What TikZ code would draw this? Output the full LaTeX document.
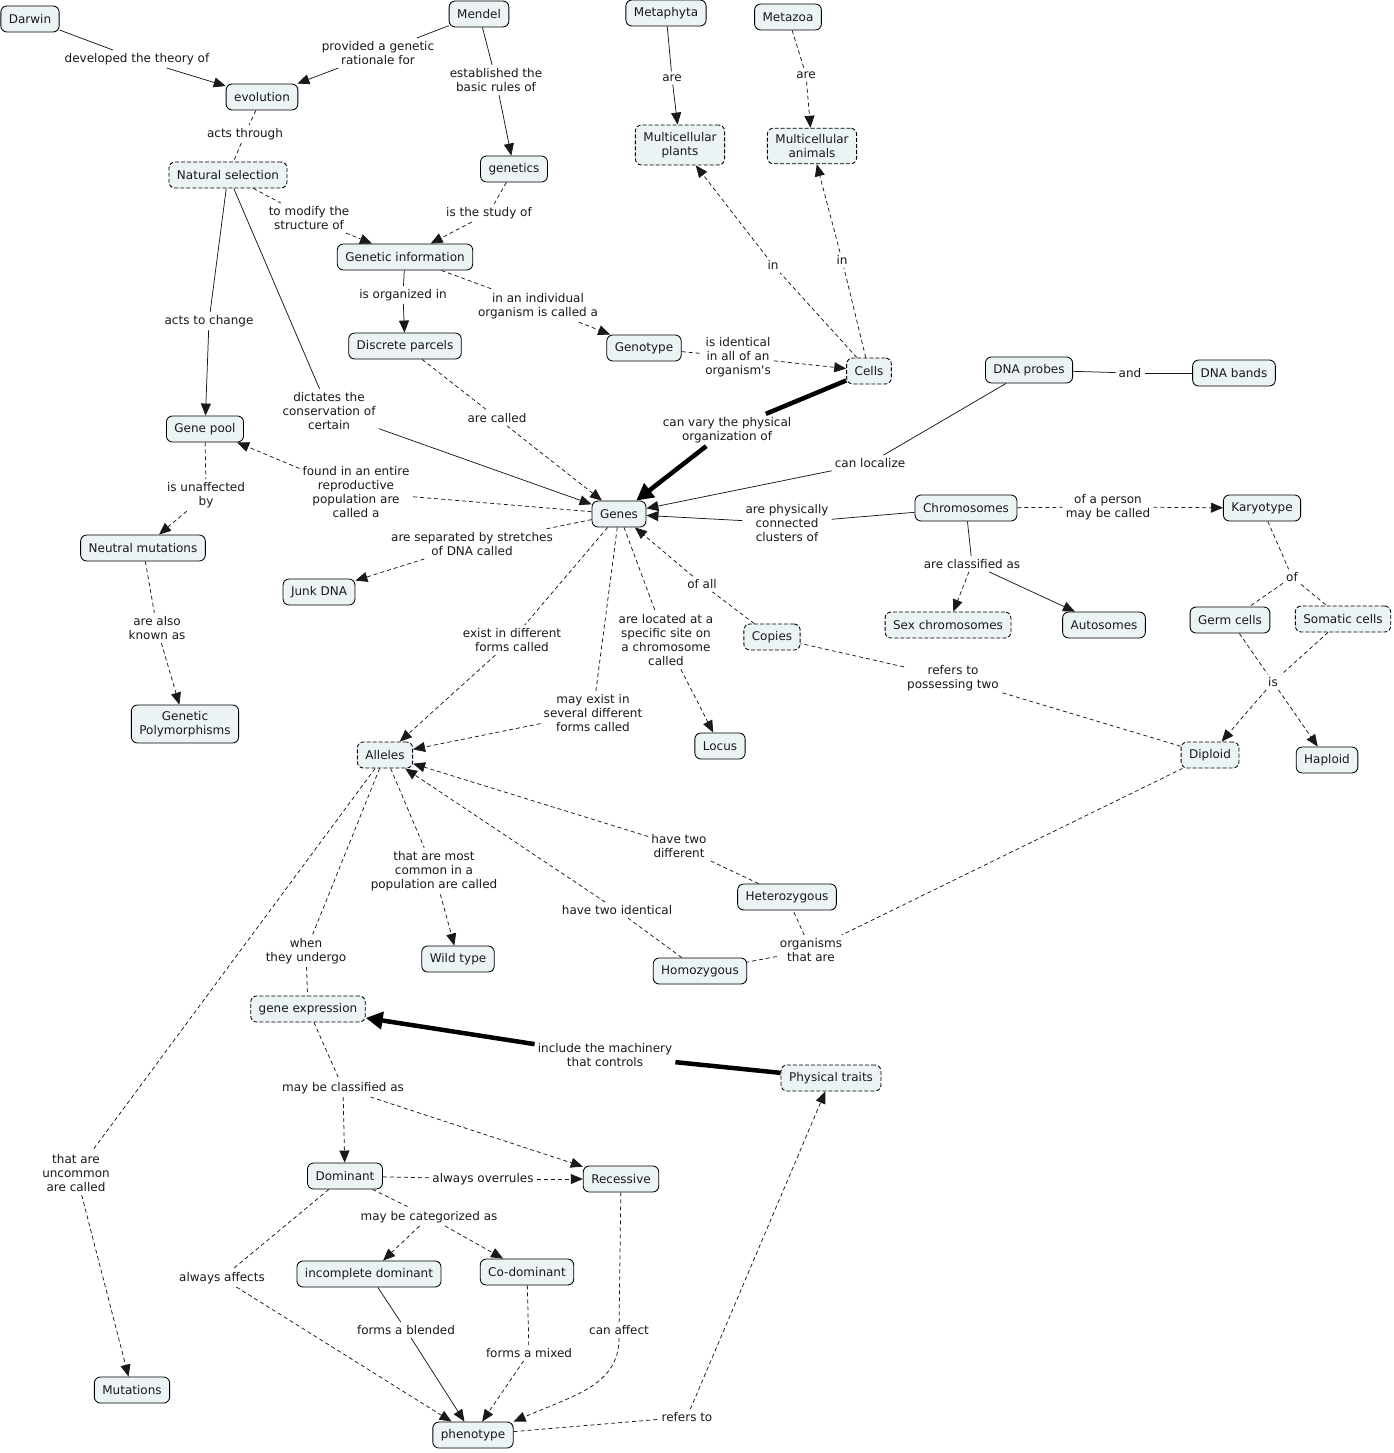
\documentclass[tikz,border=0pt]{standalone}
\usepackage{fontspec}
\setmainfont{DejaVu Sans}
\newfontfamily\plainfont{DejaVu Sans}
\usetikzlibrary{arrows.meta}
\definecolor{boxfill}{RGB}{236,243,245}
\definecolor{txt}{RGB}{25,25,25}
\tikzset{
  concept/.style={draw=black, line width=0.85pt, fill=boxfill, rounded corners=6pt,
    inner xsep=8pt, inner ysep=5.5pt, minimum height=26pt, align=center, text=txt},
  dconcept/.style={concept, dash pattern=on 4pt off 2pt},
  lab/.style={inner xsep=3pt, inner ysep=3pt, align=center, text=txt},
  ln/.style={line width=0.75pt, draw=black!90},
  dl/.style={ln, dash pattern=on 4pt off 3pt},
  arr/.style={-{Triangle[length=12pt,width=10pt]}},
  bigline/.style={line width=4.5pt, draw=black},
  bigarr/.style={-{Triangle[length=17pt,width=17pt]}}
}
\begin{document}
\begin{tikzpicture}[x=1pt,y=-1pt,font=\fontsize{12}{14.3}\selectfont]
\useasboundingbox (0,0) rectangle (1394,1453);
\fill[white] (0,0) rectangle (1394,1453);

% concepts
\node[concept] (darwin) at (30,19) {Darwin};
\node[concept] (mendel) at (479,14) {Mendel};
\node[concept] (metaphyta) at (666,13) {Metaphyta};
\node[concept] (metazoa) at (788,17) {Metazoa};
\node[concept] (evol) at (262,97) {evolution};
\node[concept] (genetics) at (514,169) {genetics};
\node[dconcept, inner ysep=7pt] (plants) at (680,145) {Multicellular\\plants};
\node[dconcept, inner ysep=6pt] (animals) at (812,146) {Multicellular\\animals};
\node[dconcept] (natsel) at (228,175) {Natural selection};
\node[concept] (geninfo) at (405,257) {Genetic information};
\node[concept] (parcels) at (405,346) {Discrete parcels};
\node[concept] (genotype) at (644,348) {Genotype};
\node[dconcept] (cells) at (869,371) {Cells};
\node[concept] (probes) at (1029,370) {DNA probes};
\node[concept] (bands) at (1234,373) {DNA bands};
\node[concept] (genepool) at (205,429) {Gene pool};
\node[concept] (genes) at (619,514) {Genes};
\node[concept] (chromo) at (966,508) {Chromosomes};
\node[concept] (karyo) at (1262,508) {Karyotype};
\node[concept] (neutral) at (143,548) {Neutral mutations};
\node[concept] (junk) at (319,592) {Junk DNA};
\node[dconcept] (sexchr) at (948,625) {Sex chromosomes};
\node[concept] (autos) at (1104,625) {Autosomes};
\node[concept] (germ) at (1230,620) {Germ cells};
\node[dconcept] (somatic) at (1343,619) {Somatic cells};
\node[dconcept] (copies) at (772,637) {Copies};
\node[concept, inner ysep=6pt] (polym) at (185,724) {Genetic\\Polymorphisms};
\node[concept] (locus) at (720,746) {Locus};
\node[dconcept] (alleles) at (385,755) {Alleles};
\node[dconcept] (diploid) at (1210,755) {Diploid};
\node[concept] (haploid) at (1327,760) {Haploid};
\node[concept] (hetero) at (787,897) {Heterozygous};
\node[concept] (homo) at (700,971) {Homozygous};
\node[concept] (wild) at (458,959) {Wild type};
\node[dconcept] (genexp) at (308,1009) {gene expression};
\node[dconcept] (phys) at (831,1078) {Physical traits};
\node[concept] (dom) at (345,1176) {Dominant};
\node[concept] (rec) at (621,1179) {Recessive};
\node[concept] (incomp) at (369,1274) {incomplete dominant};
\node[concept] (codom) at (527,1272) {Co-dominant};
\node[concept] (mut) at (132,1390) {Mutations};
\node[concept] (pheno) at (473,1435) {phenotype};

% linking phrases
\node[lab] (l1) at (137,59) {developed the theory of};
\node[lab] (l2) at (378,53) {provided a genetic\\rationale for};
\node[lab] (l3) at (496,80) {established the\\basic rules of};
\node[lab] (l4) at (672,78) {are};
\node[lab] (l5) at (806,75) {are};
\node[lab] (l6) at (245,134) {acts through};
\node[lab] (l7) at (309,218) {to modify the\\structure of};
\node[lab] (l8) at (489,213) {is the study of};
\node[lab] (l9) at (773,265) {in};
\node[lab] (l10) at (842,260) {in};
\node[lab] (l11) at (209,321) {acts to change};
\node[lab] (l12) at (403,295) {is organized in};
\node[lab] (l13) at (538,306) {in an individual\\organism is called a};
\node[lab] (l14) at (738,357) {is identical\\in all of an\\organism{\plainfont '}s};
\node[lab] (l15) at (329,411) {dictates the\\conservation of\\certain};
\node[lab] (l16) at (497,418) {are called};
\node[lab] (l17) at (727,430) {can vary the physical\\organization of};
\node[lab] (l18) at (1130,373) {and};
\node[lab] (l19) at (870,463) {can localize};
\node[lab] (l20) at (356,492) {found in an entire\\reproductive\\population are\\called a};
\node[lab] (l21) at (206,495) {is unaffected\\by};
\node[lab] (l22) at (787,523) {are physically\\connected\\clusters of};
\node[lab] (l23) at (1108,507) {of a person\\may be called};
\node[lab] (l24) at (472,544) {are separated by stretches\\of DNA called};
\node[lab] (l25) at (972,564) {are classified as};
\node[lab] (l26) at (1292,577) {of};
\node[lab] (l27) at (702,584) {of all};
\node[lab] (l28) at (157,628) {are also\\known as};
\node[lab] (l29) at (512,640) {exist in different\\forms called};
\node[lab] (l30) at (666,640) {are located at a\\specific site on\\a chromosome\\called};
\node[lab] (l31) at (953,678) {refers to\\possessing two};
\node[lab] (l32) at (1273,682) {is};
\node[lab] (l33) at (593,713) {may exist in\\several different\\forms called};
\node[lab] (l34) at (679,846) {have two\\different};
\node[lab] (l35) at (434,871) {that are most\\common in a\\population are called};
\node[lab] (l36) at (617,910) {have two identical};
\node[lab] (l37) at (811,950) {organisms\\that are};
\node[lab] (l38) at (306,951) {when\\they undergo};
\node[lab] (l39) at (605,1055) {include the machinery\\that controls};
\node[lab] (l40) at (343,1088) {may be classified as};
\node[lab] (l41) at (76,1173) {that are\\uncommon\\are called};
\node[lab] (l42) at (483,1179) {always overrules};
\node[lab] (l43) at (429,1217) {may be categorized as};
\node[lab] (l44) at (222,1278) {always affects};
\node[lab] (l45) at (406,1330) {forms a blended};
\node[lab] (l46) at (619,1330) {can affect};
\node[lab] (l47) at (529,1353) {forms a mixed};
\node[lab] (l48) at (687,1417) {refers to};

% connections
\draw[ln] (darwin) -- (l1); \draw[ln,arr] (l1) -- (evol);
\draw[ln] (mendel) -- (l2); \draw[ln,arr] (l2) -- (evol);
\draw[ln] (mendel) -- (l3); \draw[ln,arr] (l3) -- (genetics);
\draw[ln] (metaphyta) -- (l4); \draw[ln,arr] (l4) -- (plants);
\draw[dl] (metazoa) -- (l5); \draw[dl,arr] (l5) -- (animals);
\draw[dl] (evol) -- (l6); \draw[dl] (l6) -- (natsel);
\draw[dl] (natsel) -- (l7); \draw[dl,arr] (l7) -- (geninfo);
\draw[dl] (genetics) -- (l8); \draw[dl,arr] (l8) -- (geninfo);
\draw[dl] (cells) -- (l9); \draw[dl,arr] (l9) -- (plants);
\draw[dl] (cells) -- (l10); \draw[dl,arr] (l10) -- (animals);
\draw[ln] (natsel) -- (l11); \draw[ln,arr] (l11) -- (genepool);
\draw[ln] (geninfo) -- (l12); \draw[ln,arr] (l12) -- (parcels);
\draw[dl] (geninfo) -- (l13); \draw[dl,arr] (l13) -- (genotype);
\draw[dl] (genotype) -- (l14); \draw[dl,arr] (l14) -- (cells);
\draw[ln] (natsel) -- (l15); \draw[ln,arr] (l15) -- (genes);
\draw[dl] (parcels) -- (l16); \draw[dl,arr] (l16) -- (genes);
\draw[bigline] (cells) -- (l17); \draw[bigline,bigarr] (l17) -- (genes);
\draw[ln] (probes) -- (l18); \draw[ln] (l18) -- (bands);
\draw[ln] (probes) -- (l19); \draw[ln,arr] (l19) -- (genes);
\draw[dl] (genes) -- (l20); \draw[dl,arr] (l20) -- (genepool);
\draw[dl] (genepool) -- (l21); \draw[dl,arr] (l21) -- (neutral);
\draw[ln] (chromo) -- (l22); \draw[ln,arr] (l22) -- (genes);
\draw[dl] (chromo) -- (l23); \draw[dl,arr] (l23) -- (karyo);
\draw[dl] (genes) -- (l24); \draw[dl,arr] (l24) -- (junk);
\draw[ln] (chromo) -- (l25); \draw[dl,arr] (l25) -- (sexchr); \draw[ln,arr] (l25) -- (autos);
\draw[dl] (karyo) -- (l26); \draw[dl] (l26) -- (germ); \draw[dl] (l26) -- (somatic);
\draw[dl] (copies) -- (l27); \draw[dl,arr] (l27) -- (genes);
\draw[dl] (neutral) -- (l28); \draw[dl,arr] (l28) -- (polym);
\draw[dl] (genes) -- (l29); \draw[dl,arr] (l29) -- (alleles);
\draw[dl] (genes) -- (l30); \draw[dl,arr] (l30) -- (locus);
\draw[dl] (diploid) -- (l31); \draw[dl] (l31) -- (copies);
\draw[dl] (germ) -- (l32); \draw[dl] (somatic) -- (l32);
\draw[dl,arr] (l32) -- (diploid); \draw[dl,arr] (l32) -- (haploid);
\draw[dl] (genes) -- (l33); \draw[dl,arr] (l33) -- (alleles);
\draw[dl] (hetero) -- (l34); \draw[dl,arr] (l34) -- (alleles);
\draw[dl] (homo) -- (l36); \draw[dl,arr] (l36) -- (alleles);
\draw[dl] (alleles) -- (l35); \draw[dl,arr] (l35) -- (wild);
\draw[dl] (diploid) -- (l37); \draw[dl] (l37) -- (hetero); \draw[dl] (l37) -- (homo);
\draw[dl] (alleles) -- (l38); \draw[dl] (l38) -- (genexp);
\draw[dl] (alleles) -- (l41); \draw[dl,arr] (l41) -- (mut);
\draw[bigline] (phys) -- (l39); \draw[bigline,bigarr] (l39) -- (genexp);
\draw[dl] (genexp) -- (l40); \draw[dl,arr] (l40) -- (dom); \draw[dl,arr] (l40) -- (rec);
\draw[dl] (dom) -- (l42); \draw[dl,arr] (l42) -- (rec);
\draw[dl] (dom) -- (l43); \draw[dl,arr] (l43) -- (incomp); \draw[dl,arr] (l43) -- (codom);
\draw[dl] (dom) -- (l44); \draw[dl,arr] (l44) -- (pheno);
\draw[ln] (incomp) -- (l45); \draw[ln,arr] (l45) -- (pheno);
\draw[dl] (codom) -- (l47); \draw[dl,arr] (l47) -- (pheno);
\draw[dl] (rec) -- (l46);
\draw[dl,arr] (l46.south) .. controls (619,1385) and (575,1395) .. (pheno.north east);
\draw[dl] (pheno) -- (l48); \draw[dl,arr] (l48) -- (phys);
\end{tikzpicture}
\end{document}
